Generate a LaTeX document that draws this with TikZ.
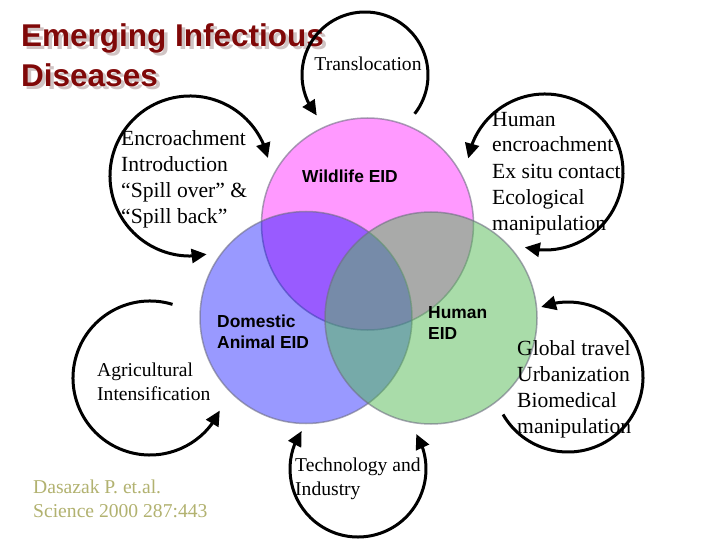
\documentclass[tikz,border=0pt]{standalone}
\usepackage{fontspec}
\setmainfont{Liberation Serif}
\newfontfamily\arialfont{Liberation Sans}
\usetikzlibrary{arrows.meta,bending}
\definecolor{titlered}{RGB}{128,8,8}
\definecolor{titleshade}{RGB}{208,196,196}
\definecolor{refolive}{RGB}{178,178,112}
\definecolor{eidpink}{RGB}{255,0,255}
\definecolor{eidblue}{RGB}{0,0,255}
\definecolor{eidgreen}{RGB}{85,187,85}
\definecolor{eidborder}{RGB}{110,110,130}
\begin{document}
\begin{tikzpicture}[x=1pt,y=-1pt,
  eid/.style={circle, minimum size=212pt, inner sep=0pt, draw=eidborder, draw opacity=0.6, line width=1.5pt},
  cyc/.style={line width=3pt, black},
  oneway/.style={cyc, -{Triangle[length=15pt,width=14pt]}},
  twoway/.style={cyc, {Triangle[length=15pt,width=14pt]}-{Triangle[length=15pt,width=14pt]}},
  lab/.style={anchor=base west, align=left, inner sep=0pt, font=\fontsize{21.6}{26}\selectfont},
  smalllab/.style={anchor=base west, align=left, inner sep=0pt, font=\fontsize{19.6}{23.5}\selectfont},
  eidlab/.style={anchor=base west, align=left, inner sep=0pt, font=\arialfont\bfseries\fontsize{17.4}{21}\selectfont},
  titlelab/.style={anchor=base west, align=left, inner sep=0pt, font=\arialfont\bfseries\fontsize{31.5}{40}\selectfont}
]
\path[use as bounding box, fill=white] (0,0) rectangle (720,540);

% Venn circles
\node[eid, fill=eidpink, fill opacity=0.4] (wild) at (367.5,224) {};
\node[eid, fill=eidblue, fill opacity=0.4] (dom) at (306,317.5) {};
\node[eid, fill=eidgreen, fill opacity=0.5] (hum) at (431,318) {};

\node[eidlab, anchor=base] (wildlab) at (350,183) {Wildlife EID};
\node[eidlab] (domlab) at (217,348) {Domestic\\Animal EID};
\node[eidlab] (humlab) at (428,339) {Human\\EID};

% Title (positions are the baseline of the last line)
\node[titlelab, text=titleshade] (titleshadow) at (22,87) [xshift=2.5pt, yshift=-2.5pt] {Emerging Infectious\\Diseases};
\node[titlelab, text=titlered] (title) at (21,87) {Emerging Infectious\\Diseases};

% cycle centres
\coordinate (ctrans) at (365,75);
\coordinate (cencr) at (190,176);
\coordinate (chenc) at (545,172);
\coordinate (cglob) at (568,377);
\coordinate (cagri) at (150,378);
\coordinate (ctech) at (358,469);

\draw[oneway] ([shift={(38:63)}]ctrans) arc[start angle=38, end angle=-220, radius=63];
\draw[twoway] ([shift={(-282:80)}]cencr) arc[start angle=-282, end angle=-13, radius=80];
\draw[twoway] ([shift={(-170:78)}]chenc) arc[start angle=-170, end angle=105, radius=78];
\draw[oneway] ([shift={(-210:75)}]cglob) arc[start angle=-210, end angle=-471, radius=75];
\draw[oneway] ([shift={(-73:77)}]cagri) arc[start angle=-73, end angle=-335, radius=77];
\draw[twoway] ([shift={(-146:68)}]ctech) arc[start angle=-146, end angle=-391, radius=68];

% Labels of the driving factors (positions are the baseline of the last line)
\node[smalllab, anchor=base] (transl) at (368,71) {Translocation};
\node[lab] (encr) at (121,224) {Encroachment\\Introduction\\“Spill over” \&\\“Spill back”};
\node[lab] (henc) at (492,230) {Human\\encroachment\\Ex situ contact\\Ecological\\manipulation};
\node[lab] (glob) at (517,433) {Global travel\\Urbanization\\Biomedical\\manipulation};
\node[smalllab] (agri) at (97,400) {Agricultural\\Intensification};
\node[smalllab] (tech) at (295,495) {Technology and\\Industry};
\node[smalllab, text=refolive, font=\fontsize{19.6}{24}\selectfont] (ref) at (33,517) {Dasazak P. et.al.\\Science 2000 287:443};
\end{tikzpicture}
\end{document}
